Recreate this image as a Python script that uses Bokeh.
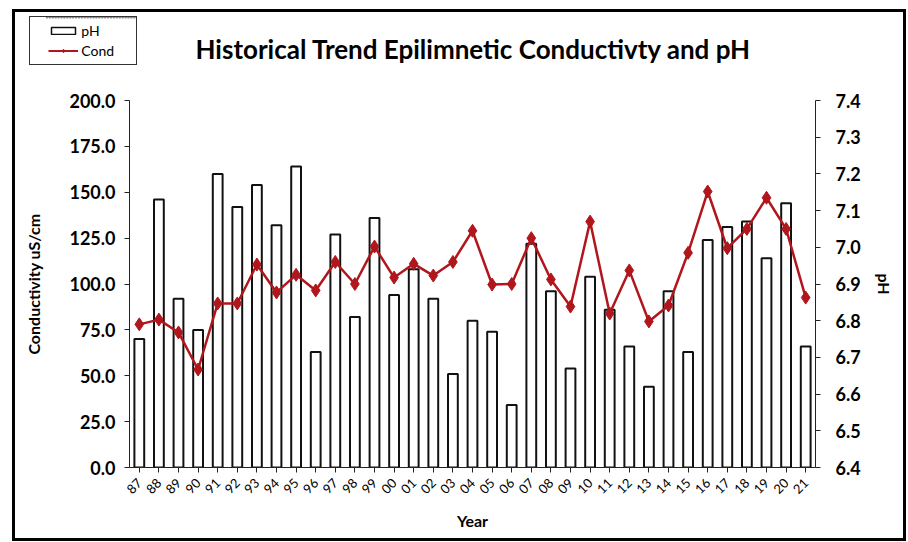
from bokeh.plotting import figure
from bokeh.layouts import column
from bokeh.models import (Range1d, LinearAxis, FactorRange, SingleIntervalTicker,
                          NumeralTickFormatter, Legend, LegendItem, ColumnDataSource)
from bokeh.embed import file_html
from bokeh.resources import INLINE
import math

years = ["87", "88", "89", "90", "91", "92", "93", "94", "95", "96",
         "97", "98", "99", "00", "01", "02", "03", "04", "05", "06",
         "07", "08", "09", "10", "11", "12", "13", "14", "15", "16",
         "17", "18", "19", "20", "21"]
ph = [6.75, 7.13, 6.86, 6.775, 7.20, 7.11, 7.17, 7.06, 7.22, 6.715,
      7.035, 6.81, 7.08, 6.87, 6.94, 6.86, 6.655, 6.80, 6.77, 6.57,
      7.01, 6.88, 6.67, 6.92, 6.83, 6.73, 6.62, 6.88, 6.715, 7.02,
      7.055, 7.07, 6.97, 7.12, 6.73]
cond = [78, 80.6, 73.6, 53.4, 89.4, 89.4, 110.6, 95.4, 105, 96.5,
        112, 100, 120.4, 103.5, 111, 104.6, 112, 129, 99.7, 100,
        125, 102.5, 87.7, 134, 83.9, 107.4, 79.6, 88.3, 117, 150.4,
        119.5, 130, 147, 130, 92.6]
ph_base = 6.4
title_text = "Historical Trend Epilimnetic Conductivty and pH"

FONT = "Lato"
RED = "#B0161C"
BAR_LINE = "#111111"

src = ColumnDataSource(dict(year=years, ph=ph, cond=cond))

# ---------------- main chart ----------------
p = figure(width=894, height=532, x_range=FactorRange(*years), y_range=Range1d(0, 200),
           output_backend="svg", toolbar_location=None,
           min_border_left=117, min_border_right=91, min_border_top=91, min_border_bottom=74)
p.extra_y_ranges = {"ph": Range1d(6.4, 7.4)}
p.xgrid.visible = False
p.ygrid.visible = False
p.outline_line_color = None
p.background_fill_color = "white"
p.border_fill_color = None

bars = p.vbar(x="year", top="ph", bottom=ph_base, width=0.5, source=src,
              y_range_name="ph", fill_color="white", line_color=BAR_LINE, line_width=2)
ln = p.line(x="year", y="cond", source=src, line_color=RED, line_width=2.5)
sc = p.scatter(x="year", y="cond", source=src, marker="diamond", size=13,
               fill_color=RED, line_color=RED)


def style_axis(ax, label, ticker=None):
    ax.axis_label = label
    ax.axis_label_text_font = FONT
    ax.axis_label_text_font_style = "bold"
    ax.axis_label_text_font_size = "16px"
    ax.axis_label_text_color = "black"
    ax.major_label_text_font = FONT
    ax.major_label_text_color = "black"
    ax.axis_line_color = "#222222"
    ax.major_tick_line_color = "#222222"
    ax.minor_tick_line_color = None
    ax.major_tick_in = 0
    ax.major_tick_out = 5
    if ticker is not None:
        ax.ticker = ticker


yl = p.yaxis[0]
style_axis(yl, "Conductivity uS/cm", SingleIntervalTicker(interval=25))
yl.formatter = NumeralTickFormatter(format="0.0")
yl.major_label_text_font_size = "18px"
yl.major_label_text_font_style = "bold"
yl.major_label_standoff = 9
yl.axis_label_standoff = 23

yr = LinearAxis(y_range_name="ph")
style_axis(yr, "pH", SingleIntervalTicker(interval=0.1))
yr.formatter = NumeralTickFormatter(format="0.0")
yr.major_label_text_font_size = "18px"
yr.major_label_text_font_style = "bold"
yr.major_label_standoff = 15
yr.axis_label_standoff = 11
p.add_layout(yr, "right")

xa = p.xaxis[0]
style_axis(xa, "Year")
xa.major_label_orientation = math.pi / 4
xa.major_label_text_font_size = "13px"
xa.major_label_standoff = 8
xa.axis_label_standoff = 10

p.styles = {"outline": "3px solid black", "outline-offset": "-3px"}

# ---------------- title strip (centred over the plot frame) ----------------
tf = figure(width=686, height=40, output_backend="svg", toolbar_location=None,
            x_axis_location=None, y_axis_location=None, min_border=0,
            x_range=Range1d(0, 1), y_range=Range1d(0, 1))
tf.title.text = title_text
tf.title.align = "center"
tf.title.text_font = FONT
tf.title.text_font_size = "26px"
tf.title.text_font_style = "bold"
tf.title.text_color = "black"
tf.title.standoff = 0
tf.xgrid.visible = False
tf.ygrid.visible = False
tf.outline_line_color = None
tf.background_fill_color = None
tf.border_fill_color = None

# ---------------- legend box (top-left, outside the plot frame) ----------------
# Same data as the chart; the ranges keep every mark out of view so only the legend shows.
lg = figure(width=106, height=47, output_backend="svg", toolbar_location=None,
            x_axis_location=None, y_axis_location=None, min_border=0,
            x_range=FactorRange(*years), y_range=Range1d(-2, -1))
lg.xgrid.visible = False
lg.ygrid.visible = False
lg.outline_line_color = None
lg.border_fill_color = "white"
lg.background_fill_color = "white"
lg_bar = lg.vbar(x="year", top="ph", bottom=ph_base, width=0.5, source=src,
                 fill_color="white", line_color=BAR_LINE, line_width=1.5)
lg_ln = lg.line(x="year", y="cond", source=src, line_color=RED, line_width=2)
lg_sc = lg.scatter(x="year", y="cond", source=src, marker="diamond", size=10,
                   fill_color=RED, line_color=RED)
legend = Legend(items=[LegendItem(label="pH", renderers=[lg_bar]),
                       LegendItem(label="Cond", renderers=[lg_ln, lg_sc])],
                location="left", orientation="vertical",
                border_line_color=None, background_fill_alpha=0,
                label_text_font=FONT, label_text_font_size="14px",
                label_text_color="black",
                glyph_width=30, glyph_height=9, label_height=20, spacing=0,
                padding=4, margin=17, label_standoff=3)
lg.add_layout(legend, "center")

# stack: legend box (17..64), title strip (30..70), chart (9..541) overlapping
lg.margin = (17, 0, 0, 30)
tf.margin = (-34, 0, 0, 117)
p.margin = (-61, 0, 0, 12)
lg.styles = {"z-index": "10", "box-shadow": "0 0 0 1px #333333"}
tf.styles = {"z-index": "9"}

page = column(lg, tf, p)
open("out.html", "w").write(file_html(page, INLINE))
